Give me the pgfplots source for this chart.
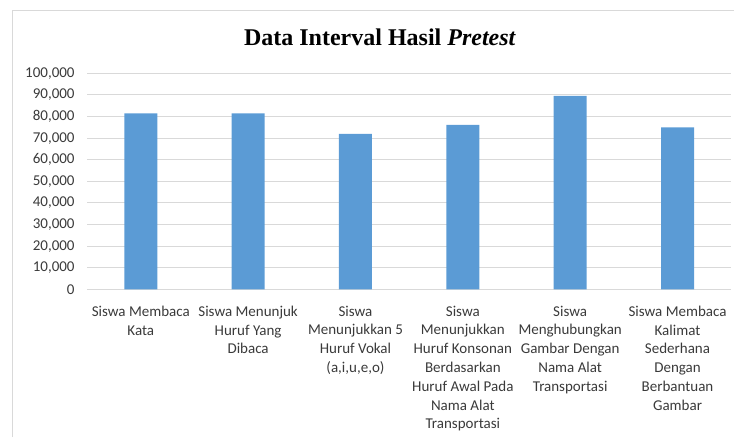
\documentclass[border=0pt]{standalone}
\usepackage{fontspec}
\setmainfont{Carlito}
\newfontfamily\titlefont{Liberation Serif}
\usepackage{pgfplots}
\pgfplotsset{compat=1.18}
\definecolor{barblue}{HTML}{5B9BD5}
\definecolor{gridgray}{HTML}{D9D9D9}
\definecolor{labgray}{HTML}{3A3A3A}

\begin{document}
\begin{tikzpicture}[x=1pt,y=1pt]
\path[use as bounding box] (0,0) rectangle (734,437);
% chart frame
\draw[gridgray, line width=1pt] (12,0) -- (12,426) -- (734,426);
% title
\node[font=\titlefont\fontsize{24}{28}\selectfont\bfseries, anchor=base] at (380,391) {Data Interval Hasil \textit{Pretest}};
\begin{axis}[
    at={(87.1pt,147.7pt)}, anchor=south west,
    scale only axis,
    width=644.1pt, height=216pt,
    ybar, bar width=33pt,
    xmin=-0.5, xmax=5.5,
    ymin=0, ymax=100000,
    ytick={0,10000,...,100000},
    xtick={0,...,5},
    xticklabels={
        {Siswa Membaca\\Kata},
        {Siswa Menunjuk\\Huruf Yang\\Dibaca},
        {Siswa\\Menunjukkan 5\\Huruf Vokal\\(a,i,u,e,o)},
        {Siswa\\Menunjukkan\\Huruf Konsonan\\Berdasarkan\\Huruf Awal Pada\\Nama Alat\\Transportasi},
        {Siswa\\Menghubungkan\\Gambar Dengan\\Nama Alat\\Transportasi},
        {Siswa Membaca\\Kalimat\\Sederhana\\Dengan\\Berbantuan\\Gambar}},
    x tick label style={align=center, anchor=north, yshift=-13pt,
        font=\fontsize{15}{18.8}\selectfont, text=labgray},
    y tick label style={font=\fontsize{15}{18}\selectfont, text=labgray, xshift=-9pt},
    scaled y ticks=false,
    /pgf/number format/.cd, fixed, 1000 sep={,}, assume math mode=true,
    /pgfplots/.cd,
    major tick length=0pt,
    ymajorgrids, grid style={gridgray, line width=1pt},
    axis x line*=bottom, axis y line*=left,
    x axis line style={gridgray, line width=1pt, -},
    y axis line style={draw=none},
]
\addplot[fill=barblue, draw=none] coordinates {
    (0,81400) (1,81400) (2,72000) (3,76100) (4,89600) (5,75000)
};
\end{axis}
\end{tikzpicture}
\end{document}
